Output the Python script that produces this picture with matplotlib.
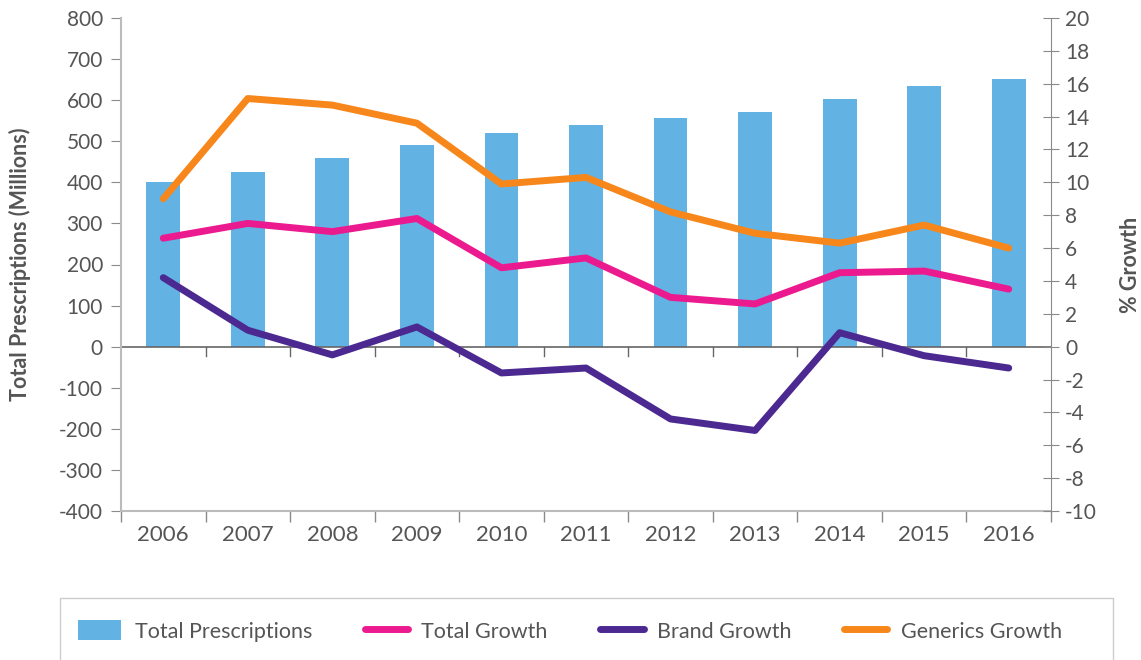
import matplotlib.pyplot as plt
from matplotlib.patches import Rectangle
import numpy as np

plt.rcParams['font.family'] = ['Lato', 'DejaVu Sans']
plt.rcParams['axes.unicode_minus'] = False

years = ['2006', '2007', '2008', '2009', '2010', '2011', '2012', '2013', '2014', '2015', '2016']
total_rx = [401, 426, 460, 491, 521, 540, 557, 572, 603, 635, 652]
total_growth = [6.6, 7.5, 7.0, 7.8, 4.8, 5.4, 3.0, 2.6, 4.5, 4.6, 3.5]
brand_growth = [4.2, 1.0, -0.5, 1.2, -1.6, -1.3, -4.4, -5.1, 0.85, -0.55, -1.3]
generics_growth = [9.0, 15.1, 14.7, 13.6, 9.9, 10.3, 8.2, 6.9, 6.3, 7.4, 6.0]

grey = '#8a8a8a'
txt = '#555555'

fig = plt.figure(figsize=(11.41, 6.60), dpi=100)
ax = fig.add_axes([121/1141, 1-511/660, 930/1141, 493/660])
ax2 = ax.twinx()

x = np.arange(len(years))
bars = ax.bar(x, total_rx, width=0.4, color='#62B3E4', label='Total Prescriptions')
ax.set_xlim(-0.5, len(years) - 0.5)
ax.set_ylim(-400, 800)
ax.set_yticks(range(-400, 801, 100))
ax.set_xticks(x)
ax.set_xticklabels(years)
ax.set_xticks(np.arange(-0.5, len(years), 1), minor=True)
ax.tick_params(axis='x', which='major', length=0, pad=10, labelsize=16, labelcolor=txt)
ax.tick_params(axis='x', which='minor', length=8, color=grey, width=1)
ax.tick_params(axis='y', length=7, color=grey, labelsize=15, labelcolor=txt, pad=6)
ax.axhline(0, color='#666666', lw=1.2, zorder=1)
for xb in np.arange(0.5, len(years) - 1, 1):
    ax.plot([xb, xb], [0, -22], color='#666666', lw=1, zorder=1)
for s in ['top', 'right']:
    ax.spines[s].set_visible(False)
ax.spines['left'].set_color('#bbbbbb')
ax.spines['bottom'].set_color('#bbbbbb')
ax.spines['left'].set_linewidth(1.5)
ax.spines['bottom'].set_linewidth(1.5)
ax.set_ylabel('Total Prescriptions (Millions)', fontsize=15.5, fontweight='bold', color=txt)
ax.yaxis.set_label_coords(-0.097, 0.5)

kw = dict(lw=5, solid_capstyle='round', solid_joinstyle='round')
l1, = ax2.plot(x, total_growth, color='#EC1A8F', label='Total Growth', **kw)
l2, = ax2.plot(x, brand_growth, color='#4B2991', label='Brand Growth', **kw)
l3, = ax2.plot(x, generics_growth, color='#F7861B', label='Generics Growth', **kw)
ax2.set_ylim(-10, 20)
ax2.set_yticks(range(-10, 21, 2))
ax2.tick_params(axis='y', direction='inout', length=12, color=grey, labelsize=15, labelcolor=txt, pad=4)
for s in ['top', 'left', 'bottom']:
    ax2.spines[s].set_visible(False)
ax2.spines['right'].set_color(grey)
ax2.set_ylabel('% Growth', fontsize=15.5, fontweight='bold', color=txt)
ax2.yaxis.set_label_coords(1.074, 0.5)

fig.patches.append(Rectangle((60/1141, -0.05), 1053/1141, 0.05 + 62/660, transform=fig.transFigure,
                             fill=False, edgecolor='#cccccc', lw=1))
fig.legend(handles=[bars, l1, l2, l3], loc='center left', bbox_to_anchor=(78/1141, 1-631/660), ncol=4,
           frameon=False, fontsize=15.5, handlelength=2.0, handleheight=1.06, columnspacing=2.45,
           handletextpad=0.63, borderpad=0, borderaxespad=0, labelcolor=txt)

fig.savefig('out.png', dpi=100)
